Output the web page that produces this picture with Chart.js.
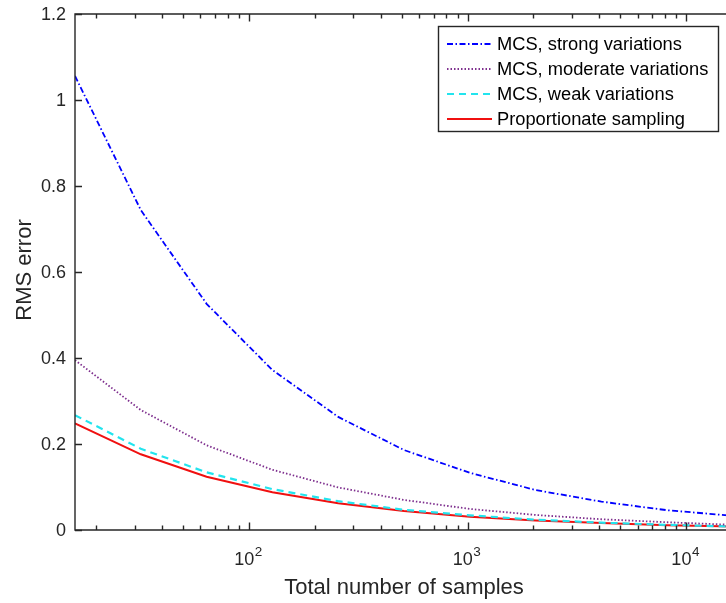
<!DOCTYPE html>
<html>
<head>
<meta charset="utf-8">
<script src="https://cdn.jsdelivr.net/npm/chart.js@4/dist/chart.umd.min.js"></script>
<style>
  html, body { margin: 0; padding: 0; background: #fff; overflow: hidden; }
  #wrap { position: relative; width: 760px; height: 603px; }
</style>
</head>
<body>
<div id="wrap"><canvas id="rms"></canvas></div>
<script>
// total number of samples (x) and RMS error for each method
const samples = [16, 32, 64, 128, 256, 512, 1024, 2048, 4096, 8192, 16384];
const strongVar = [1.056, 0.744, 0.526, 0.372, 0.263, 0.186, 0.133, 0.093, 0.066, 0.046, 0.033];
const moderateVar = [0.395, 0.279, 0.197, 0.140, 0.099, 0.070, 0.049, 0.035, 0.025, 0.018, 0.012];
const weakVar = [0.267, 0.189, 0.134, 0.095, 0.067, 0.047, 0.034, 0.024, 0.017, 0.012, 0.008];
const proportionate = [0.248, 0.176, 0.124, 0.088, 0.062, 0.044, 0.031, 0.022, 0.016, 0.011, 0.008];

const seriesNames = ['MCS, strong variations', 'MCS, moderate variations', 'MCS, weak variations', 'Proportionate sampling'];

const yTicks = [0, 0.2, 0.4, 0.6, 0.8, 1, 1.2];
const yTickLabels = ['0', '0.2', '0.4', '0.6', '0.8', '1', '1.2'];
const xMajor = [100, 1000, 10000];
const xMajorExp = ['2', '3', '4'];

const axisColor = '#262626';

function pts(vals) {
  return samples.map((s, i) => ({ x: s, y: vals[i] }));
}

// frame, inward ticks, tick labels, titles and legend, matlab style
const matlabAxes = {
  id: 'matlabAxes',
  afterDraw(chart) {
    const ctx = chart.ctx;
    const a = chart.chartArea;
    const xs = chart.scales.x, ys = chart.scales.y;
    ctx.save();
    ctx.strokeStyle = axisColor;
    ctx.lineWidth = 1.4;
    ctx.beginPath();
    ctx.rect(a.left, a.top, a.right - a.left, a.bottom - a.top);
    ctx.stroke();

    // y ticks both sides
    ctx.beginPath();
    yTicks.forEach(v => {
      const y = Math.round(ys.getPixelForValue(v)) + 0.5;
      ctx.moveTo(a.left, y); ctx.lineTo(a.left + 7, y);
      ctx.moveTo(a.right, y); ctx.lineTo(a.right - 7, y);
    });
    // x minor ticks
    [10, 100, 1000, 10000].forEach(d => {
      for (let m = 2; m <= 9; m++) {
        const v = m * d;
        if (v < xs.min || v > xs.max) continue;
        const x = Math.round(xs.getPixelForValue(v)) + 0.5;
        ctx.moveTo(x, a.bottom); ctx.lineTo(x, a.bottom - 4.5);
        ctx.moveTo(x, a.top); ctx.lineTo(x, a.top + 4.5);
      }
    });
    xMajor.forEach(v => {
      const x = Math.round(xs.getPixelForValue(v)) + 0.5;
      ctx.moveTo(x, a.bottom); ctx.lineTo(x, a.bottom - 7.5);
      ctx.moveTo(x, a.top); ctx.lineTo(x, a.top + 7.5);
    });
    ctx.stroke();

    // y tick labels
    ctx.fillStyle = axisColor;
    ctx.font = '18px "Liberation Sans", Arial, sans-serif';
    ctx.textAlign = 'right';
    ctx.textBaseline = 'middle';
    yTicks.forEach((v, i) => {
      ctx.fillText(yTickLabels[i], a.left - 9, ys.getPixelForValue(v) + 1);
    });

    // x tick labels 10^n
    ctx.textAlign = 'left';
    ctx.textBaseline = 'alphabetic';
    xMajor.forEach((v, i) => {
      const x = xs.getPixelForValue(v);
      ctx.font = '18px "Liberation Sans", Arial, sans-serif';
      const w1 = ctx.measureText('10').width;
      ctx.font = '13.5px "Liberation Sans", Arial, sans-serif';
      const w2 = ctx.measureText(xMajorExp[i]).width;
      const x0 = x - (w1 + w2) / 2 - 1;
      ctx.font = '18px "Liberation Sans", Arial, sans-serif';
      ctx.fillText('10', x0, 565);
      ctx.font = '13.5px "Liberation Sans", Arial, sans-serif';
      ctx.fillText(xMajorExp[i], x0 + w1 + 0.5, 556);
    });

    // axis titles
    ctx.font = '22px "Liberation Sans", Arial, sans-serif';
    ctx.textAlign = 'center';
    ctx.fillText('Total number of samples', 404, 594);
    ctx.save();
    ctx.translate(31, 270);
    ctx.rotate(-Math.PI / 2);
    ctx.fillText('RMS error', 0, 0);
    ctx.restore();

    // legend box
    const lx = 438, ly = 26, lw = 280, lh = 105;
    ctx.fillStyle = '#fff';
    ctx.fillRect(lx, ly, lw, lh);
    ctx.strokeStyle = axisColor;
    ctx.lineWidth = 1.4;
    ctx.strokeRect(lx + 0.5, ly + 0.5, lw, lh);
    ctx.font = '18.3px "Liberation Sans", Arial, sans-serif';
    ctx.textAlign = 'left';
    ctx.textBaseline = 'middle';
    chart.data.datasets.forEach((ds, i) => {
      const yy = 44 + i * 25;
      ctx.strokeStyle = ds.borderColor;
      ctx.lineWidth = ds.borderWidth;
      ctx.setLineDash(ds.borderDash || []);
      ctx.beginPath();
      ctx.moveTo(447, yy); ctx.lineTo(492, yy);
      ctx.stroke();
      ctx.setLineDash([]);
      ctx.fillStyle = '#000';
      ctx.fillText(ds.label, 497, yy + 1);
    });
    ctx.restore();
  }
};

new Chart(document.getElementById('rms').getContext('2d'), {
  type: 'line',
  data: {
    datasets: [{
      label: seriesNames[0],
      data: pts(strongVar),
      borderColor: '#0000ff',
      borderWidth: 1.8,
      borderDash: [6, 2.5, 1.5, 2.5]
    }, {
      label: seriesNames[1],
      data: pts(moderateVar),
      borderColor: '#7e2f8e',
      borderWidth: 1.8,
      borderDash: [1.5, 2]
    }, {
      label: seriesNames[2],
      data: pts(weakVar),
      borderColor: '#22e4ee',
      borderWidth: 2.2,
      borderDash: [7, 5]
    }, {
      label: seriesNames[3],
      data: pts(proportionate),
      borderColor: '#f01010',
      borderWidth: 2
    }]
  },
  options: {
    responsive: true,
    maintainAspectRatio: false,
    animation: false,
    layout: { padding: { left: 75, top: 14, right: 27, bottom: 73 } },
    elements: { point: { radius: 0 }, line: { tension: 0 } },
    plugins: { legend: { display: false }, tooltip: { enabled: false } },
    scales: {
      x: { type: 'logarithmic', min: 16, max: 16384, display: false },
      y: { type: 'linear', min: 0, max: 1.2, display: false }
    }
  },
  plugins: [matlabAxes]
});
</script>
</body>
</html>
